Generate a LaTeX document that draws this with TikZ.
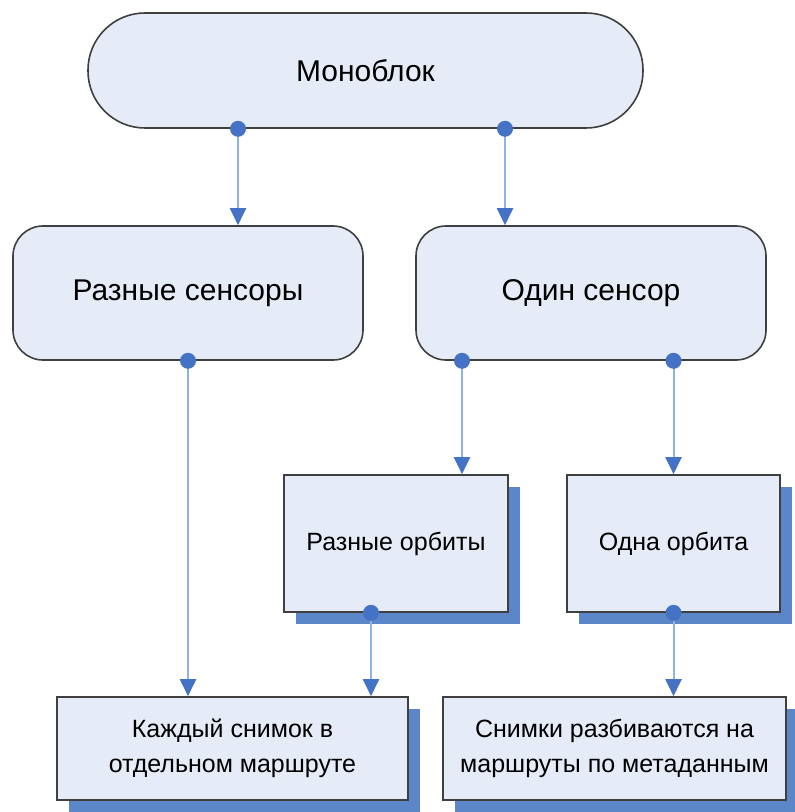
\documentclass[tikz,border=0pt]{standalone}
\usepackage{fontspec}
\setmainfont{Liberation Sans}
\usetikzlibrary{arrows.meta,shadows}

\definecolor{boxfill}{HTML}{E6ECF7}
\definecolor{boxline}{HTML}{3F3F3F}
\definecolor{linkblue}{HTML}{8EB4E3}
\definecolor{dotblue}{HTML}{4472C4}
\definecolor{shadowblue}{HTML}{5B86C8}

\begin{document}
\begin{tikzpicture}[x=0.5pt, y=-0.5pt,
		softbox/.style={draw=boxline, line width=0.8pt, fill=boxfill, inner sep=0pt,
				font=\fontsize{15}{18}\selectfont, rounded corners=15pt,
				minimum width=175pt, minimum height=67pt},
		stadium/.style={softbox, rounded corners=28.5pt,
				minimum width=277.5pt, minimum height=57.5pt},
		shadebox/.style={draw=boxline, line width=0.8pt, fill=boxfill, inner sep=0pt,
				font=\fontsize{12.5}{17.5}\selectfont, align=center, minimum height=68.5pt,
				drop shadow={shadow xshift=6pt, shadow yshift=-6pt, fill=shadowblue, opacity=1}},
		link/.style={draw=linkblue, line width=1pt,
				-{Triangle[width=8pt, length=8.5pt, color=dotblue]}}]
		\useasboundingbox (0,0) rectangle (795,812);

		% Top block
		\node[stadium] (mono) at (365.5,70.5) {Моноблок};

		% Sensors
		\node[softbox] (rs) at (188,293) {Разные сенсоры};
		\node[softbox] (os) at (591,293) {Один сенсор};

		% Orbits
		\node[shadebox, minimum width=112pt] (ro) at (396,543.5) {Разные орбиты};
		\node[shadebox, minimum width=106.5pt] (oo) at (673.5,543.5) {Одна орбита};

		% Results
		\node[shadebox, minimum width=175.5pt, minimum height=51.5pt] (kb) at (232.5,748.5)
			{Каждый снимок в\\отдельном маршруте};
		\node[shadebox, minimum width=171.5pt, minimum height=51.5pt] (sb) at (614.5,748.5)
			{Снимки разбиваются на\\маршруты по метаданным};

		% Connectors
		\draw[link] ([xshift=-63.75pt]mono.south) coordinate (d1) -- (d1 |- rs.north);
		\draw[link] ([xshift=69.75pt]mono.south) coordinate (d2) -- (d2 |- os.north);
		\draw[link] (rs.south) coordinate (d3) -- (d3 |- kb.north);
		\draw[link] ([xshift=-64.5pt]os.south) coordinate (d4) -- (d4 |- ro.north);
		\draw[link] (oo.north |- os.south) coordinate (d5) -- (oo.north);
		\draw[link] ([xshift=-12.5pt]ro.south) coordinate (d6) -- (d6 |- kb.north);
		\draw[link] (oo.south) coordinate (d7) -- (d7 |- sb.north);

		% Dots on the start of each connector
		\foreach \d in {d1, d2, d3, d4, d5, d6, d7} {
				\fill[dotblue] (\d) circle (4pt);
			}
	\end{tikzpicture}
\end{document}
